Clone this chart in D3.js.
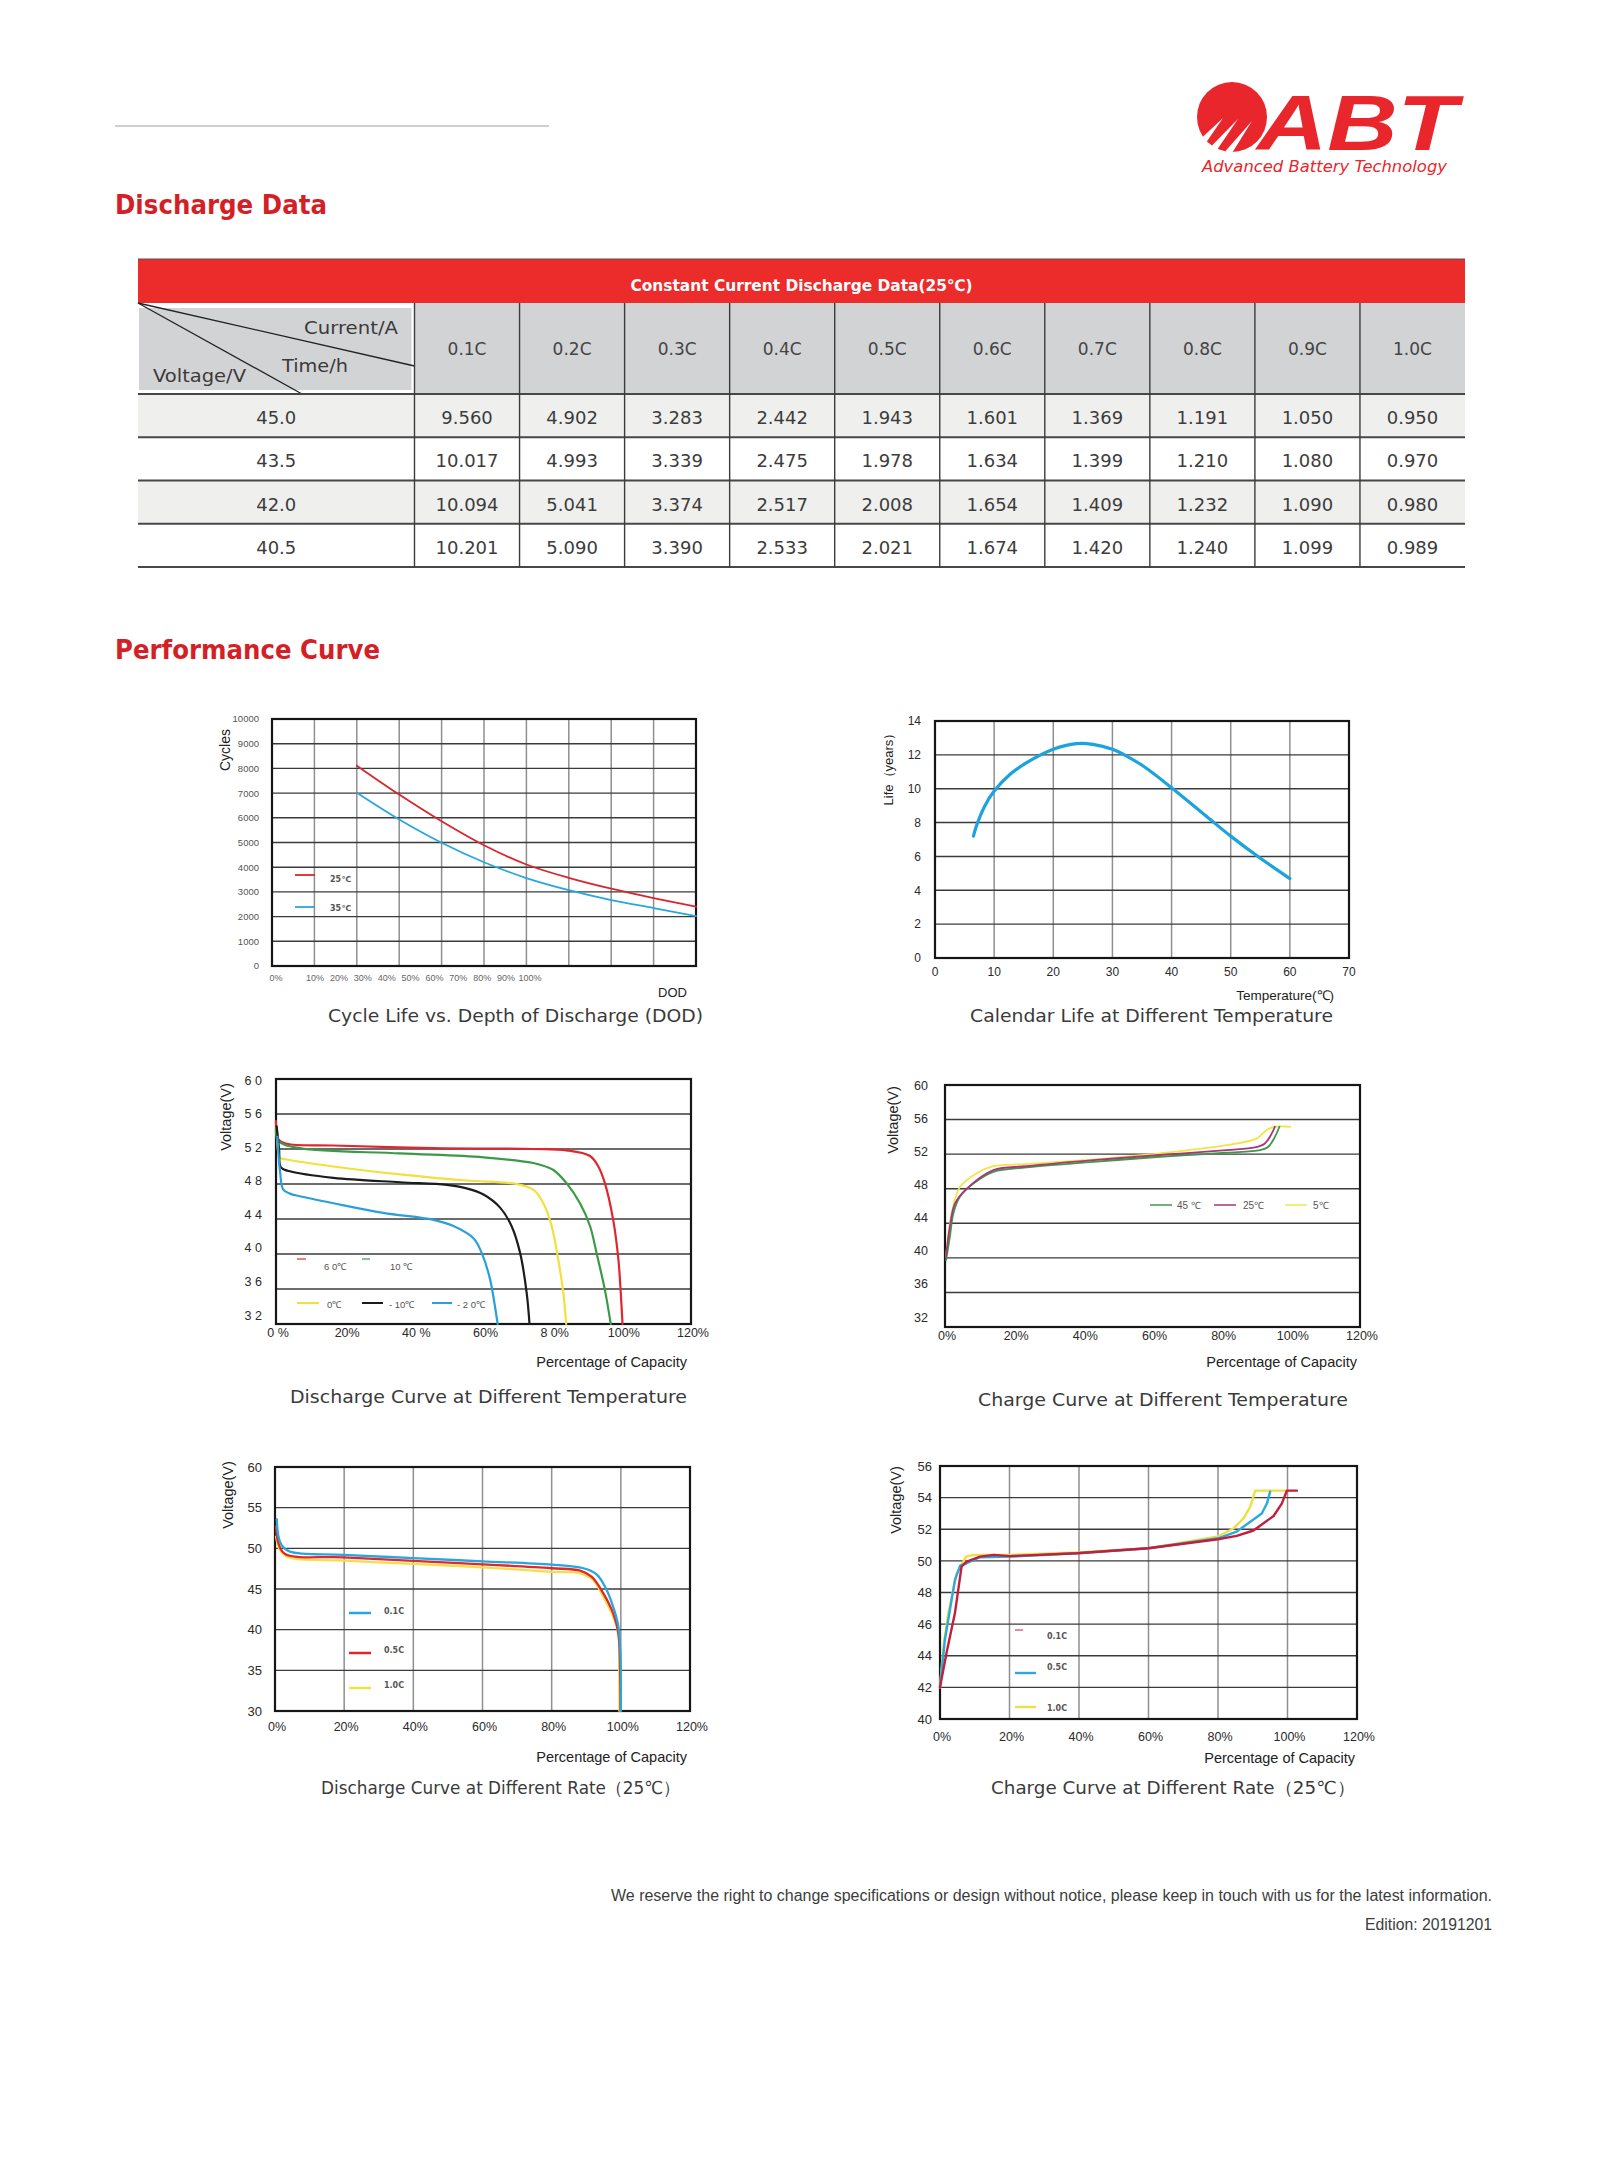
<!DOCTYPE html>
<html><head><meta charset="utf-8">
<script src="https://cdn.jsdelivr.net/npm/d3@7/dist/d3.min.js"></script>
<style>body{margin:0;background:#fff}svg{display:block}</style>
</head><body><svg id="page" width="1600" height="2167"></svg>
<script>
// ---------------- DATA ----------------
const tableTitle = "Constant Current Discharge Data(25℃)";
const rateColumns = ["0.1C","0.2C","0.3C","0.4C","0.5C","0.6C","0.7C","0.8C","0.9C","1.0C"];
const voltageRows = ["45.0","43.5","42.0","40.5"];
const times450 = [9.560,4.902,3.283,2.442,1.943,1.601,1.369,1.191,1.050,0.950];
const times435 = [10.017,4.993,3.339,2.475,1.978,1.634,1.399,1.210,1.080,0.970];
const times420 = [10.094,5.041,3.374,2.517,2.008,1.654,1.409,1.232,1.090,0.980];
const times405 = [10.201,5.090,3.390,2.533,2.021,1.674,1.420,1.240,1.099,0.989];

// Cycle life vs DOD
const dodGrid = [20,30,40,50,60,70,80,90,100];
const cycles25C = [8110,6940,5860,4890,4110,3570,3130,2750,2400];
const cycles35C = [7010,5930,4990,4200,3560,3070,2670,2345,2020];
const dodLabels = ["0%","10%","20%","30%","40%","50%","60%","70%","80%","90%","100%"];
const cycleTicks = [0,1000,2000,3000,4000,5000,6000,7000,8000,9000,10000];

// Calendar life
const calTemp = [6.5,7.0,8.4,10,12.7,15.5,20,23.9,26.7,30,32.4,35.2,40,46.5,50,54.9,60];
const calLife = [7.2,7.8,8.97,9.86,10.85,11.54,12.33,12.66,12.62,12.33,11.93,11.34,10.06,8.19,7.2,5.92,4.69];
const calXTicks = [0,10,20,30,40,50,60,70];
const calYTicks = [0,2,4,6,8,10,12,14];

// Discharge at different temperature
const dis60C = [[0,55.2],[0.7,53.1],[3.1,52.6],[16.6,52.4],[45.5,52.1],[74.4,52.0],[84,51.85],[90.8,51.2],[93.2,50.0],[95.1,48.1],[97.5,43.9],[99.0,39.4],[99.7,35.5],[100.2,32]];
const dis10C = [[0,54.4],[0.7,52.9],[6.9,52.1],[35.9,51.5],[60,51.05],[74.4,50.4],[76.3,50.2],[80.2,49.6],[84,48.1],[87.9,45.8],[90.8,43.2],[92.7,40.1],[95.1,35.9],[96.8,32]];
const dis0C = [[0.4,52.9],[1.2,51.0],[3.1,50.8],[16.6,50.0],[35.9,49.1],[55.1,48.4],[69.6,48.0],[74.4,47.35],[77.3,45.8],[79.7,43.2],[81.6,39.4],[83.1,35.5],[83.9,32]];
const disM10C = [[0.2,54.6],[0.9,51.9],[1.4,49.9],[4.0,49.45],[16.6,48.7],[35.9,48.2],[49.4,47.9],[55.1,47.5],[60,46.8],[64.8,45.3],[68.1,43.2],[70.6,40.1],[72.5,35.5],[73.3,32]];
const disM20C = [[0.4,53.4],[1.2,49.3],[2.1,47.35],[4.0,46.9],[6.9,46.6],[16.6,45.8],[31.0,44.7],[45.5,43.9],[51.3,43.2],[57.1,41.8],[59.5,40.1],[61.9,37.1],[64.1,32]];
const disTempLabels = ["6 0℃","10 ℃","0℃","- 10℃","- 2 0℃"];
const disTempYTicks = [32,36,40,44,48,52,56,60];
const disTempYText = ["3 2","3 6","4 0","4 4","4 8","5 2","5 6","6 0"];
const pctTicks = [0,20,40,60,80,100,120];
const disTempXText = ["0 %","20%","40 %","60%","8 0%","100%","120%"];

// Charge at different temperature
const chg45C = [[0.3,39.7],[1.4,42.4],[2.4,45.1],[4.3,47.06],[8.2,48.6],[14.0,49.96],[23.6,50.46],[42.9,51.1],[62.2,51.7],[81.4,52.16],[91.1,52.47],[93.5,52.86],[95.4,54.0],[96.7,55.17]];
const chg25C = [[0.3,40.1],[1.4,43.6],[2.9,46.3],[6.3,48.0],[14.0,50.15],[23.6,50.6],[42.9,51.3],[62.2,51.9],[81.4,52.47],[89.6,52.78],[92.5,53.24],[94.5,54.4],[95.4,55.17]];
const chg5C = [[0.3,40.1],[1.9,45.1],[4.3,48.2],[9.2,49.8],[14.0,50.6],[23.6,50.85],[42.9,51.4],[62.2,52.1],[81.4,53.05],[90.1,53.8],[93.0,54.8],[95.4,55.17],[99.8,55.17]];
const chgTempLabels = ["45 ℃","25℃","5℃"];
const pctText = ["0%","20%","40%","60%","80%","100%","120%"];

// Discharge at different rate
const rate01C = [[0.5,53.6],[1.0,51.45],[1.9,50.4],[4.3,49.6],[19.8,49.2],[40,48.8],[60,48.4],[80,48.0],[89.2,47.55],[93.0,46.8],[95.4,45.3],[97.8,42.8],[99.3,40.35],[99.9,36.65],[100,30]];
const rate05C = [[0.3,52.7],[1.0,50.6],[2.9,49.3],[19.8,48.9],[40,48.45],[60,48.04],[80,47.55],[88.2,47.26],[91.6,46.5],[94.9,44.5],[97.8,42.0],[99.3,39.5],[99.8,34.6],[99.9,30]];
const rate10C = [[0.3,51.45],[1.4,49.8],[3.9,48.9],[19.8,48.5],[40,48.08],[60,47.67],[80,47.1],[88.2,46.93],[92.0,46.1],[94.9,44.05],[97.8,41.6],[99.3,39.5],[99.5,34.6],[99.6,30]];
const rateLabels = ["0.1C","0.5C","1.0C"];
const disRateYTicks = [30,35,40,45,50,55,60];

// Charge at different rate
const chgR01C = [[0,42.0],[1.9,44.2],[4.3,46.7],[6.2,49.64],[7.7,49.96],[11.5,50.27],[15.4,50.38],[20.2,50.3],[39.4,50.48],[60,50.8],[80,51.37],[85.4,51.58],[90.2,51.92],[93.1,52.38],[96,52.84],[98.4,53.64],[99.8,54.44],[102.7,54.44]];
const chgR05C = [[0,42.0],[1.4,45.0],[4.3,48.8],[5.8,49.7],[7.7,49.85],[11.5,50.23],[20.2,50.27],[39.4,50.48],[60,50.8],[80,51.43],[85.4,51.85],[89.3,52.48],[92.6,53.0],[94.1,53.64],[95.0,54.38]];
const chgR10C = [[0,42.0],[1.0,44.6],[2.4,46.7],[4.8,49.2],[7.5,50.27],[9.6,50.38],[20.2,50.38],[39.4,50.53],[60,50.8],[80,51.54],[84.5,52.06],[87.4,52.7],[89.3,53.43],[90.7,54.44],[99.8,54.44]];
const chgRateYTicks = [40,42,44,46,48,50,52,54,56];

// ---------------- DRAWING ----------------
const svg = d3.select("#page");
svg.append("rect").attr("width",1600).attr("height",2167).attr("fill","#fff");
const RED = "#d51f26";
const SANS = "'Liberation Sans', Arial, sans-serif";
const DJV = "'DejaVu Sans', Verdana, sans-serif";

// header line
svg.append("line").attr("x1",115).attr("x2",549).attr("y1",126).attr("y2",126).attr("stroke","#a0a0a0").attr("stroke-width",1.2);

// logo
const logo = svg.append("g");
logo.append("circle").attr("cx",1232).attr("cy",117).attr("r",35).attr("fill","#e8262b");
[[1203,141,1223,118],[1214,148,1238,119],[1228,153,1252,121]].forEach(s=>{
  logo.append("path").attr("d",`M${s[2]},${s[3]} L${s[0]-2.5},${s[1]-2} L${s[0]+2.5},${s[1]+2.5} Z`).attr("fill","#fff");
});
logo.append("text").attr("x",1257).attr("y",150).attr("font-family",SANS).attr("font-weight","bold").attr("font-style","italic")
  .attr("font-size",78).attr("fill","#e8262b").attr("textLength",200).attr("lengthAdjust","spacingAndGlyphs").text("ABT");
logo.append("text").attr("x",1202).attr("y",172).attr("font-family",DJV).attr("font-style","italic")
  .attr("font-size",16).attr("fill","#e8262b").attr("textLength",245).attr("lengthAdjust","spacingAndGlyphs").text("Advanced Battery Technology");

// section titles
function sectionTitle(t, y, w){
  svg.append("text").attr("x",115).attr("y",y).attr("font-family",DJV).attr("font-weight","bold")
   .attr("font-size",26).attr("fill",RED).attr("textLength",w).attr("lengthAdjust","spacingAndGlyphs").text(t);
}
sectionTitle("Discharge Data",214,212);
sectionTitle("Performance Curve",659,265);

// ---------------- TABLE ----------------
const T = {left:138, c1:414.5, right:1465, top:259, hTop:303, hBot:394, bottom:567};
const colX = d3.scaleBand().domain(rateColumns).range([T.c1, T.right]);
const rowY = d3.scaleBand().domain(voltageRows).range([T.hBot, T.bottom]);
const tableRows = [times450, times435, times420, times405];
const tb = svg.append("g");
tb.append("rect").attr("x",T.left).attr("y",T.top).attr("width",T.right-T.left).attr("height",T.hTop-T.top).attr("fill","#ec2b2b");
tb.append("line").attr("x1",T.left).attr("x2",T.right).attr("y1",T.top).attr("y2",T.top).attr("stroke","#555").attr("stroke-width",1.2);
tb.append("text").attr("x",(T.left+T.right)/2).attr("y",291).attr("text-anchor","middle").attr("font-family",DJV).attr("font-weight","bold")
  .attr("font-size",16).attr("fill","#fff").attr("textLength",342).attr("lengthAdjust","spacingAndGlyphs").text(tableTitle);
// header grey
tb.append("rect").attr("x",T.left+1).attr("y",T.hTop+5).attr("width",T.c1-T.left-4).attr("height",T.hBot-T.hTop-9).attr("fill","#d2d3d5");
tb.append("rect").attr("x",T.c1).attr("y",T.hTop).attr("width",T.right-T.c1).attr("height",T.hBot-T.hTop).attr("fill","#d2d3d5");
// diagonals
tb.append("line").attr("x1",T.left).attr("y1",T.hTop).attr("x2",T.c1).attr("y2",366).attr("stroke","#222").attr("stroke-width",1.3);
tb.append("line").attr("x1",T.left).attr("y1",T.hTop).attr("x2",302).attr("y2",T.hBot).attr("stroke","#222").attr("stroke-width",1.3);
const hdrTxt = (t,x,y,w)=>tb.append("text").attr("x",x).attr("y",y).attr("font-family",DJV).attr("font-size",18).attr("fill","#3a3a3a")
  .attr("textLength",w).attr("lengthAdjust","spacingAndGlyphs").text(t);
hdrTxt("Current/A",304,334,94);
hdrTxt("Time/h",282,372,66);
hdrTxt("Voltage/V",153,382,93);
// row backgrounds
tb.selectAll("rect.rowbg").data(voltageRows.filter((d,i)=>i%2===0)).join("rect")
  .attr("x",T.left).attr("y",d=>rowY(d)).attr("width",T.right-T.left).attr("height",rowY.bandwidth()).attr("fill","#eff0ee");
// column labels
tb.selectAll("text.col").data(rateColumns).join("text").attr("x",d=>colX(d)+colX.bandwidth()/2).attr("y",(T.hTop+T.hBot)/2+6)
  .attr("text-anchor","middle").attr("font-family",DJV).attr("font-size",17).attr("fill","#444").text(d=>d);
// horizontal lines
tb.selectAll("line.hl").data([T.hBot].concat(voltageRows.map(d=>rowY(d)+rowY.bandwidth()))).join("line")
  .attr("x1",T.left).attr("x2",T.right).attr("y1",d=>d).attr("y2",d=>d).attr("stroke","#474747").attr("stroke-width",1.8);
// vertical lines
tb.selectAll("line.vl").data([T.c1].concat(rateColumns.slice(1).map(d=>colX(d)))).join("line")
  .attr("x1",d=>d).attr("x2",d=>d).attr("y1",T.hTop).attr("y2",T.bottom).attr("stroke","#3c3c3c").attr("stroke-width",1.4);
// cells
voltageRows.forEach((v,ri)=>{
  const yb = rowY(v)+rowY.bandwidth()/2+8.5;
  tb.append("text").attr("x",(T.left+T.c1)/2).attr("y",yb).attr("text-anchor","middle").attr("font-family",DJV).attr("font-size",18).attr("fill","#3c3c3c").text(v);
  tb.selectAll(null).data(tableRows[ri]).join("text").attr("x",(d,i)=>colX(rateColumns[i])+colX.bandwidth()/2).attr("y",yb)
    .attr("text-anchor","middle").attr("font-family",DJV).attr("font-size",18).attr("fill","#3c3c3c").text(d=>d3.format(".3f")(d));
});

// ---------------- CHARTS ----------------
function drawChart(o){
  const g = svg.append("g");
  const x = d3.scaleLinear().domain(o.xDomain).range([o.left,o.right]);
  const y = d3.scaleLinear().domain(o.yDomain).range([o.bottom,o.top]);
  if (o.xGrid) g.selectAll("line.vg").data(o.xGrid).join("line").attr("x1",d=>x(d)).attr("x2",d=>x(d)).attr("y1",o.top).attr("y2",o.bottom)
     .attr("stroke","#8f8f8f").attr("stroke-width",1.5);
  g.selectAll("line.hg").data(o.yGrid).join("line").attr("x1",o.left).attr("x2",o.right).attr("y1",d=>y(d)).attr("y2",d=>y(d))
     .attr("stroke","#3b3b3b").attr("stroke-width",1.4);
  g.append("rect").attr("x",o.left).attr("y",o.top).attr("width",o.right-o.left).attr("height",o.bottom-o.top)
     .attr("fill","none").attr("stroke","#161616").attr("stroke-width",2.2);
  const line = d3.line().x(d=>x(d[0])).y(d=>y(d[1])).curve(o.curve || d3.curveCatmullRom.alpha(0.5));
  o.series.forEach(s=>g.append("path").datum(s.data).attr("d",line).attr("fill","none").attr("stroke",s.color)
     .attr("stroke-width",s.width||2.2).attr("stroke-linejoin","round").attr("stroke-linecap","round"));
  // y tick labels
  const yl = o.yLabelRange ? d3.scaleLinear().domain(o.yDomain).range(o.yLabelRange) : y;
  g.selectAll("text.yl").data(o.yTicks).join("text").attr("x",o.yLabelX).attr("y",d=>yl(d)+o.yFont*0.36)
     .attr("text-anchor","end").attr("font-family",SANS).attr("font-size",o.yFont).attr("fill",o.tickColor||"#2a2a2a")
     .text((d,i)=>o.yText? o.yText[i] : d);
  // x tick labels
  if (o.xTicks){
    g.selectAll("text.xl").data(o.xTicks).join("text").attr("x",d=>x(d)+(o.xShift||0)).attr("y",o.xLabelY)
     .attr("text-anchor","middle").attr("font-family",SANS).attr("font-size",o.xFont).attr("fill",o.tickColor||"#2a2a2a")
     .text((d,i)=>o.xText? o.xText[i] : d);
  }
  // y axis title
  g.append("text").attr("transform",`translate(${o.yTitleX},${o.yTitleY}) rotate(-90)`).attr("text-anchor","middle")
   .attr("font-family",SANS).attr("font-size",o.yTitleFont||14.5).attr("fill","#222").text(o.yTitle);
  // x axis title
  g.append("text").attr("x",o.xTitleX).attr("y",o.xTitleY).attr("text-anchor","end")
   .attr("font-family",SANS).attr("font-size",o.xTitleFont||14.5).attr("fill","#222").text(o.xTitle);
  // caption
  g.append("text").attr("x",(o.capX1+o.capX2)/2).attr("y",o.capY).attr("text-anchor","middle")
   .attr("font-family",DJV).attr("font-size",18).attr("fill","#3a3a3a")
   .attr("textLength",o.capX2-o.capX1).attr("lengthAdjust","spacingAndGlyphs").text(o.caption);
  return {g,x,y};
}
function legendLine(g,x1,x2,y,color,w){ g.append("line").attr("x1",x1).attr("x2",x2).attr("y1",y).attr("y2",y).attr("stroke",color).attr("stroke-width",w); }
function legendText(g,x,y,t,size,opts){ const e=g.append("text").attr("x",x).attr("y",y).attr("font-family",(opts&&opts.font)||SANS).attr("font-size",size).attr("fill",(opts&&opts.color)||"#555").text(t); if(opts&&opts.bold) e.attr("font-weight","bold"); return e; }

// Chart 1: cycle life
const c1 = drawChart({
  left:272,right:696,top:719,bottom:966,xDomain:[0,100],yDomain:[0,10000],
  xGrid:d3.range(10,100,10), yGrid:cycleTicks.slice(1,-1),
  series:[{data:dodGrid.map((d,i)=>[d,cycles25C[i]]),color:"#d7262d",width:1.8},{data:dodGrid.map((d,i)=>[d,cycles35C[i]]),color:"#27a8dc",width:1.8}],
  yTicks:cycleTicks, yLabelX:259, yFont:9.5, tickColor:"#555",
  yTitle:"Cycles", yTitleX:230, yTitleY:750, yTitleFont:14,
  xTitle:"DOD", xTitleX:687, xTitleY:997, xTitleFont:13,
  caption:"Cycle Life vs. Depth of Discharge (DOD)", capX1:328, capX2:703, capY:1022
});
{
  const lbl = d3.scaleLinear().domain([10,100]).range([315,530]);
  c1.g.selectAll("text.dl").data(dodLabels).join("text")
    .attr("x",(d,i)=> i===0 ? c1.x(0)+4 : lbl(i*10)).attr("y",981).attr("text-anchor","middle")
    .attr("font-family",SANS).attr("font-size",9).attr("fill","#666").text(d=>d);
  legendLine(c1.g,295,315,875,"#d7262d",1.8); legendText(c1.g,330,882,"25℃",8,{bold:true,color:"#555",font:DJV});
  legendLine(c1.g,295,315,907,"#27a8dc",1.8); legendText(c1.g,330,911,"35℃",8,{bold:true,color:"#555",font:DJV});
}

// Chart 2: calendar life
drawChart({
  left:935,right:1349,top:721,bottom:958,xDomain:[0,70],yDomain:[0,14],
  xGrid:d3.range(10,70,10), yGrid:calYTicks.slice(1,-1),
  series:[{data:calTemp.map((d,i)=>[d,calLife[i]]),color:"#1ba3de",width:3.2}],
  yTicks:calYTicks, yLabelX:921, yFont:12, xTicks:calXTicks, xFont:12, xLabelY:976,
  yTitle:"Life（years）", yTitleX:893, yTitleY:766, yTitleFont:13,
  xTitle:"Temperature(℃)", xTitleX:1334, xTitleY:1000, xTitleFont:13.5,
  caption:"Calendar Life at Different Temperature", capX1:970, capX2:1333, capY:1022
});

// Chart 3: discharge at different temperature
const c3 = drawChart({
  left:276,right:691,top:1079,bottom:1324,xDomain:[0,120],yDomain:[32,60],
  yGrid:[36,40,44,48,52,56],
  series:[{data:dis60C,color:"#e0272e"},{data:dis10C,color:"#3b9a47"},{data:dis0C,color:"#f3e03c"},{data:disM10C,color:"#1c1c1c"},{data:disM20C,color:"#2aa0da"}],
  yTicks:disTempYTicks, yText:disTempYText, yLabelRange:[1315,1080], yLabelX:262, yFont:12.5,
  xTicks:pctTicks, xText:disTempXText, xFont:12.5, xLabelY:1337, xShift:2,
  yTitle:"Voltage(V)", yTitleX:231, yTitleY:1117,
  xTitle:"Percentage of Capacity", xTitleX:687, xTitleY:1367,
  caption:"Discharge Curve at Different Temperature", capX1:290, capX2:687, capY:1403
});
{
  const cols3=["#e0272e","#3b9a47","#f3e03c","#1c1c1c","#2aa0da"];
  legendLine(c3.g,297,306,1259,cols3[0],1.2); legendText(c3.g,324,1270,disTempLabels[0],9.5);
  legendLine(c3.g,362,370,1259,cols3[1],1.2); legendText(c3.g,390,1270,disTempLabels[1],9.5);
  legendLine(c3.g,297,319,1303,cols3[2],2); legendText(c3.g,327,1308,disTempLabels[2],9.5);
  legendLine(c3.g,362,383,1303,cols3[3],2); legendText(c3.g,389,1308,disTempLabels[3],9.5);
  legendLine(c3.g,432,452,1303,cols3[4],2); legendText(c3.g,457,1308,disTempLabels[4],9.5);
}

// Chart 4: charge at different temperature
const c4 = drawChart({
  left:945,right:1360,top:1085,bottom:1327,xDomain:[0,120],yDomain:[32,60],
  yGrid:[36,40,44,48,52,56],
  series:[{data:chg5C,color:"#f2e447",width:1.8},{data:chg45C,color:"#3c9a4a",width:1.8},{data:chg25C,color:"#a6377c",width:1.8}],
  yTicks:disTempYTicks, yLabelRange:[1317,1085], yLabelX:928, yFont:12.5,
  xTicks:pctTicks, xText:pctText, xFont:12.5, xLabelY:1340, xShift:2,
  yTitle:"Voltage(V)", yTitleX:898, yTitleY:1120,
  xTitle:"Percentage of Capacity", xTitleX:1357, xTitleY:1367,
  caption:"Charge Curve at Different Temperature", capX1:978, capX2:1348, capY:1406
});
{
  legendLine(c4.g,1150,1172,1205,"#3c9a4a",1.5); legendText(c4.g,1177,1209,chgTempLabels[0],10);
  legendLine(c4.g,1214,1236,1205,"#a6377c",1.5); legendText(c4.g,1243,1209,chgTempLabels[1],10);
  legendLine(c4.g,1285,1307,1205,"#f2e447",1.5); legendText(c4.g,1313,1209,chgTempLabels[2],10);
}

// Chart 5: discharge at different rate
const c5 = drawChart({
  left:275,right:690,top:1467,bottom:1711,xDomain:[0,120],yDomain:[30,60],
  xGrid:[20,40,60,80,100], yGrid:[35,40,45,50,55],
  series:[{data:rate10C,color:"#f1e04a",width:2.3},{data:rate05C,color:"#e2262c",width:2.3},{data:rate01C,color:"#29a6de",width:2.3}],
  yTicks:disRateYTicks, yLabelX:262, yFont:13,
  xTicks:pctTicks, xText:pctText, xFont:12.5, xLabelY:1731, xShift:2,
  yTitle:"Voltage(V)", yTitleX:233, yTitleY:1495,
  xTitle:"Percentage of Capacity", xTitleX:687, xTitleY:1762,
  caption:"Discharge Curve at Different Rate（25℃）", capX1:321, capX2:680, capY:1794
});
{
  legendLine(c5.g,349,371,1613,"#29a6de",2.5); legendText(c5.g,384,1614,rateLabels[0],8,{bold:true,font:DJV});
  legendLine(c5.g,349,371,1653,"#e2262c",2.5); legendText(c5.g,384,1653,rateLabels[1],8,{bold:true,font:DJV});
  legendLine(c5.g,349,371,1688,"#f1e04a",2.5); legendText(c5.g,384,1688,rateLabels[2],8,{bold:true,font:DJV});
}

// Chart 6: charge at different rate
const c6 = drawChart({
  left:940,right:1357,top:1466,bottom:1719,xDomain:[0,120],yDomain:[40,56],
  xGrid:[20,40,60,80,100], yGrid:[42,44,46,48,50,52,54],
  curve:d3.curveLinear,
  series:[{data:chgR10C,color:"#eedf45",width:2.4},{data:chgR05C,color:"#2aa8df",width:2.4},{data:chgR01C,color:"#c21f3d",width:2.4}],
  yTicks:chgRateYTicks, yLabelX:932, yFont:13,
  xTicks:pctTicks, xText:pctText, xFont:12.5, xLabelY:1741, xShift:2,
  yTitle:"Voltage(V)", yTitleX:901, yTitleY:1500,
  xTitle:"Percentage of Capacity", xTitleX:1355, xTitleY:1763,
  caption:"Charge Curve at Different Rate（25℃）", capX1:991, capX2:1355, capY:1794
});
{
  legendLine(c6.g,1015,1023,1630,"#c21f3d",1); legendText(c6.g,1047,1639,rateLabels[0],8,{bold:true,font:DJV});
  legendLine(c6.g,1015,1036,1673,"#2aa8df",2.4); legendText(c6.g,1047,1670,rateLabels[1],8,{bold:true,font:DJV});
  legendLine(c6.g,1015,1036,1707,"#eedf45",2.4); legendText(c6.g,1047,1711,rateLabels[2],8,{bold:true,font:DJV});
}

// footer
const NARROW = "'Liberation Sans Narrow','Liberation Sans',Arial,sans-serif";
svg.append("text").attr("x",1492).attr("y",1901).attr("text-anchor","end").attr("font-family",NARROW).attr("font-size",16)
  .attr("fill","#3c3c3c").attr("textLength",881).attr("lengthAdjust","spacingAndGlyphs")
  .text("We reserve the right to change specifications or design without notice, please keep in touch with us for the latest information.");
svg.append("text").attr("x",1492).attr("y",1930).attr("text-anchor","end").attr("font-family",NARROW).attr("font-size",16)
  .attr("fill","#3c3c3c").attr("textLength",127).attr("lengthAdjust","spacingAndGlyphs").text("Edition: 20191201");
</script></body></html>
